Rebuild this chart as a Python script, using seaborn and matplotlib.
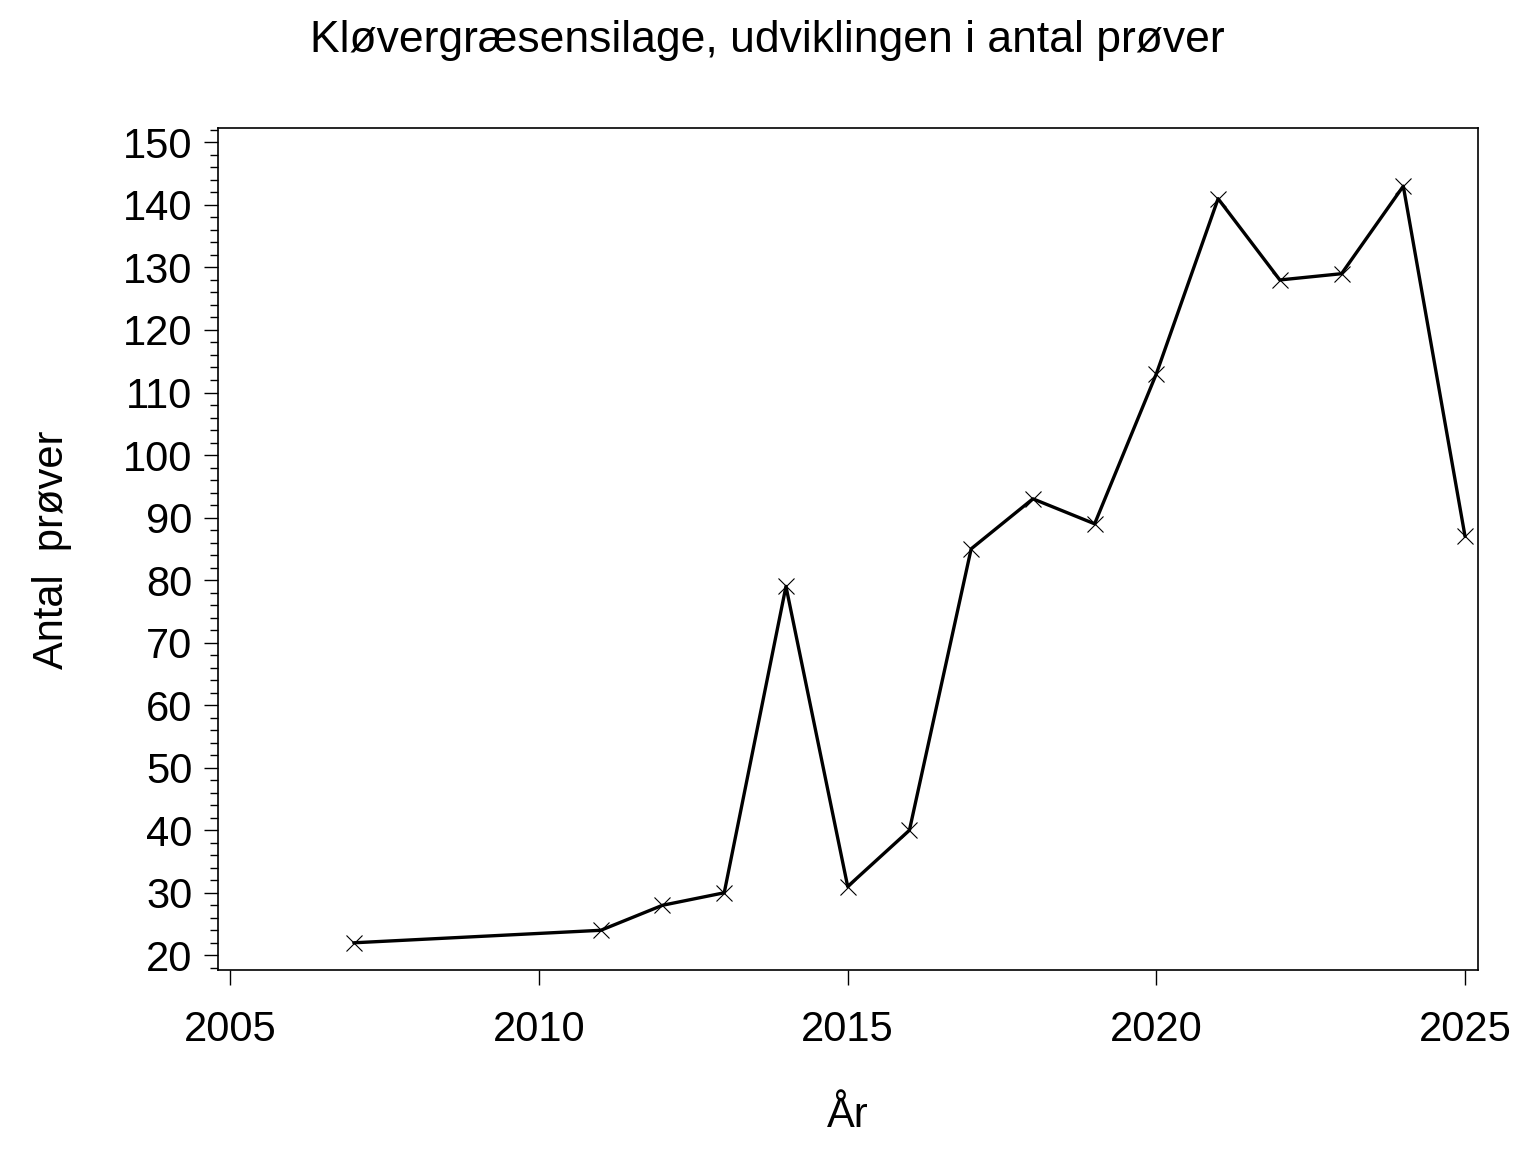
import matplotlib
matplotlib.use("Agg")
import matplotlib.pyplot as plt
import seaborn as sns
import pandas as pd
from matplotlib.ticker import MultipleLocator

years = [2007, 2011, 2012, 2013, 2014, 2015, 2016, 2017, 2018, 2019, 2020, 2021, 2022, 2023, 2024, 2025]
antal = [22, 24, 28, 30, 79, 31, 40, 85, 93, 89, 113, 141, 128, 129, 143, 87]
x_ticks = [2005, 2010, 2015, 2020, 2025]
y_ticks = [20, 30, 40, 50, 60, 70, 80, 90, 100, 110, 120, 130, 140, 150]

title = "Kløvergræsensilage, udviklingen i antal prøver"
xlabel = "År"
ylabel = "Antal  prøver"

df = pd.DataFrame({"year": years, "antal": antal})

sns.set_theme(style="white")
plt.rcParams["font.family"] = ["Liberation Sans", "DejaVu Sans"]

fig = plt.figure(figsize=(15.36, 11.52), dpi=100)
ax = fig.add_axes([218 / 1536, 1 - 970 / 1152, (1478 - 218) / 1536, (970 - 128) / 1152])

sns.lineplot(data=df, x="year", y="antal", ax=ax, color="black", linewidth=2.4,
             marker="x", markersize=11, markeredgewidth=0.8, markeredgecolor="black")

ax.set_xlim(2004.80, 2025.21)
ax.set_ylim(17.65, 152.30)
ax.set_xticks(x_ticks)
ax.set_xticklabels([str(t) for t in x_ticks])
ax.set_yticks(y_ticks)
ax.set_yticklabels([str(t) for t in y_ticks])
ax.yaxis.set_minor_locator(MultipleLocator(2))

for s in ax.spines.values():
    s.set_visible(True)
    s.set_color("black")
    s.set_linewidth(1.2)

ax.tick_params(axis="y", which="major", direction="out", length=10, width=1.0, color="black",
               labelsize=30, pad=8.5, left=True)
ax.tick_params(axis="y", which="minor", direction="out", length=5.8, width=1.0, color="black", left=True)
ax.tick_params(axis="x", which="major", direction="out", length=11, width=1.0, color="black",
               labelsize=30, pad=18, bottom=True)
for lab in ax.get_xticklabels() + ax.get_yticklabels():
    lab.set_color("black")

ax.set_xlabel("")
ax.set_ylabel("")

fig.text(767.5 / 1536, 1 - 52 / 1152, title, ha="center", va="baseline", fontsize=32, color="black")
fig.text(848 / 1536, 1 - 1127 / 1152, xlabel, ha="center", va="baseline", fontsize=30, color="black")
fig.text(63 / 1536, 1 - 550 / 1152, ylabel, ha="center", va="baseline", rotation=90,
         rotation_mode="anchor", fontsize=30, color="black")

fig.savefig("out.png", dpi=100, facecolor="white")
